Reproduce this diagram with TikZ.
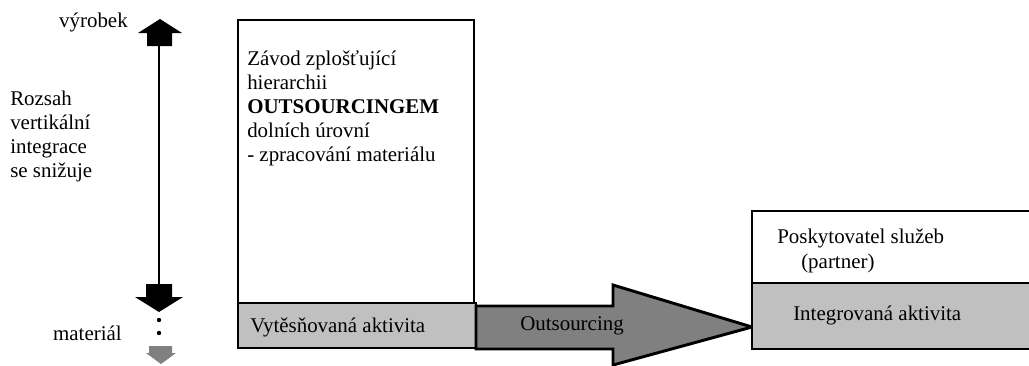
\documentclass[tikz,border=0pt]{standalone}
\usepackage{fontspec}
\setmainfont{Liberation Serif}
\usetikzlibrary{positioning}

\definecolor{boxgray}{HTML}{C0C0C0}
\definecolor{arrowgray}{HTML}{808080}

\tikzset{
  txt/.style={font=\fontsize{15.7}{18}\selectfont, inner sep=0pt, align=left},
  frame/.style={draw=black, line width=2.2pt},
}

\begin{document}
\begin{tikzpicture}[x=0.75pt, y=-0.75pt]
  \useasboundingbox (0,0) rectangle (1029,365);
  \clip (0,0) rectangle (1029,365);

  % vertical scale
  \coordinate (top) at (159,45);
  \coordinate (bot) at (159,285);
  \draw[line width=2.2pt] (top) -- (bot);
  \fill (147,46) -- (147,33) -- (138,33) -- (160,19) -- (182,33) -- (172,33) -- (172,46) -- cycle;
  \fill (146,284) -- (172,284) -- (172,297) -- (183,297) -- (159,312) -- (135,297) -- (146,297) -- cycle;
  \fill (159,320) circle (2.2);
  \fill (159,333) circle (2.2);
  \fill[arrowgray] (149,346) -- (172,346) -- (172,353) -- (176,353) -- (161,364) -- (146,353) -- (149,353) -- cycle;

  \node[txt, anchor=east] (vyrobek) at (128,22) {výrobek};
  \node[txt, anchor=east] (material) at (122,333) {materiál};
  \node[txt, anchor=north west] (rozsah) at (10,91) {Rozsah\\vertikální\\integrace\\se snižuje};

  % plant box
  \draw[frame, fill=white] (238,20) rectangle (474,303);
  \draw[frame, fill=boxgray] (238,303) rectangle (476,348);
  \node[txt, anchor=north west] (zavod) at (247,50)
    {Závod zplošťující\\hierarchii\\\textbf{OUTSOURCINGEM}\\dolních úrovní\\- zpracování materiálu};
  \node[txt, anchor=west] (vytes) at (250,327) {Vytěsňovaná aktivita};

  % outsourcing arrow
  \draw[frame, fill=arrowgray] (476,306) -- (613,306) -- (613,285) -- (752,327)
    -- (613,365) -- (613,349) -- (476,349) -- cycle;
  \node[txt, anchor=west] (outs) at (520,326) {Outsourcing};

  % partner box
  \draw[frame, fill=white] (752,211) rectangle (1040,283);
  \draw[frame, fill=boxgray] (752,283) rectangle (1040,349);
  \node[txt, anchor=west] (posk) at (777,238) {Poskytovatel služeb};
  \node[txt, anchor=west] (partner) at (801,263) {(partner)};
  \node[txt, anchor=west] (integ) at (793,315) {Integrovaná aktivita};
\end{tikzpicture}
\end{document}
